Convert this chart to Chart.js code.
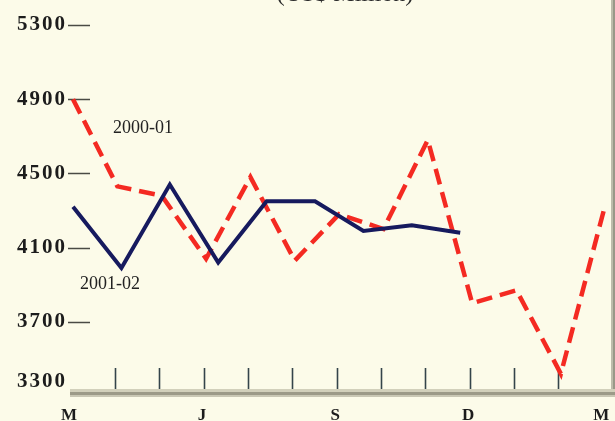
<!DOCTYPE html>
<html>
<head>
<meta charset="utf-8">
<script src="https://cdn.jsdelivr.net/npm/chart.js@4/dist/chart.umd.min.js"></script>
<style>
  html, body { margin: 0; padding: 0; background: #fcfbe9; }
  #wrap { width: 615px; height: 421px; position: relative; }
</style>
</head>
<body>
<div id="wrap"><canvas id="c" width="615" height="421"></canvas></div>
<script>
// Month axis: March through the following March
const months = ['Mar','Apr','May','Jun','Jul','Aug','Sep','Oct','Nov','Dec','Jan','Feb','Mar'];
const monthTickLabels = ['M','','','J','','','S','','','D','','','M'];
const yTickValues = [3300, 3700, 4100, 4500, 4900, 5300];

// Monthly values, US$ million
const sales2000_01 = [4900, 4430, 4380, 4040, 4480, 4030, 4280, 4200, 4680, 3800, 3870, 3420, 4330];
const sales2001_02 = [4320, 3990, 4440, 4020, 4350, 4350, 4190, 4220, 4180];

const seriesNames = ['2000-01', '2001-02'];
const unitTitle = '(US$ Million)';

const SERIF = '"Liberation Serif", "Times New Roman", serif';
const BG = '#fcfbe9';

const decor = {
  id: 'decor',
  beforeDraw(chart) {
    const { ctx, width, height } = chart;
    ctx.save();
    ctx.fillStyle = BG;
    ctx.fillRect(0, 0, width, height);
    ctx.restore();
  },
  beforeDatasetsDraw(chart) {
    const { ctx, chartArea, scales } = chart;
    const xs = scales.x, ys = scales.y;
    const bottom = chartArea.bottom;
    ctx.save();

    // unit caption, running off the top edge
    ctx.fillStyle = '#2b2b2b';
    ctx.font = '24px ' + SERIF;
    ctx.textAlign = 'center';
    ctx.textBaseline = 'alphabetic';
    ctx.fillText(unitTitle, 345, 1);

    // right frame edge
    ctx.fillStyle = '#bdbcab';
    ctx.fillRect(chartArea.right - 1, 0, 2, bottom);
    ctx.fillStyle = '#999888';
    ctx.fillRect(chartArea.right + 1, 0, 2, bottom);

    // base line band
    const bx0 = xs.getPixelForValue(0) - 3;
    ctx.fillStyle = '#d2d0bb';
    ctx.fillRect(bx0, bottom - 7, chart.width - bx0, 3);
    ctx.fillStyle = '#9c9a88';
    ctx.fillRect(bx0, bottom - 4, chart.width - bx0, 3);
    ctx.fillStyle = '#c9c7b4';
    ctx.fillRect(bx0, bottom - 1, chart.width - bx0, 2);

    // month tick marks standing on the base line
    ctx.strokeStyle = '#34444a';
    ctx.lineWidth = 1.6;
    for (let i = 1; i < months.length - 1; i++) {
      const px = Math.round(xs.getPixelForValue(i) - 2.5) + 0.5;
      ctx.beginPath();
      ctx.moveTo(px, bottom - 28);
      ctx.lineTo(px, bottom - 7);
      ctx.stroke();
    }

    // value marks and labels on the left
    ctx.strokeStyle = '#4a4a44';
    ctx.lineWidth = 1.5;
    ctx.fillStyle = '#1c1c1c';
    ctx.font = 'bold 21px ' + SERIF;
    ctx.letterSpacing = '2px';
    ctx.textAlign = 'right';
    ctx.textBaseline = 'middle';
    const yMin = Math.min(...yTickValues);
    yTickValues.forEach(v => {
      const py = ys.getPixelForValue(v);
      if (v !== yMin) {
        ctx.beginPath();
        ctx.moveTo(chartArea.left + 2, Math.round(py) + 0.5);
        ctx.lineTo(chartArea.left + 24, Math.round(py) + 0.5);
        ctx.stroke();
        ctx.fillText(String(v), chartArea.left + 1, py);
      } else {
        ctx.fillText(String(v), chartArea.left + 1, bottom - 14);
      }
    });
    ctx.letterSpacing = '0px';

    // month letters under the base line
    ctx.font = 'bold 17px ' + SERIF;
    ctx.textAlign = 'center';
    ctx.textBaseline = 'alphabetic';
    monthTickLabels.forEach((t, i) => {
      if (!t) return;
      ctx.fillText(t, xs.getPixelForValue(i) - 4, 420);
    });

    // series names beside their lines
    ctx.font = '18px ' + SERIF;
    ctx.fillStyle = '#222';
    ctx.textAlign = 'left';
    ctx.textBaseline = 'middle';
    ctx.fillText(seriesNames[0], xs.getPixelForValue(0.9), ys.getPixelForValue(4745));
    ctx.fillText(seriesNames[1], xs.getPixelForValue(0.16), ys.getPixelForValue(3900));

    ctx.restore();
  }
};

new Chart(document.getElementById('c'), {
  type: 'line',
  data: {
    datasets: [
      {
        label: seriesNames[1],
        data: sales2001_02.map((v, i) => ({ x: i, y: v })),
        xAxisID: 'xb',
        yAxisID: 'y',
        borderColor: '#161a5e',
        borderWidth: 4,
        pointRadius: 0,
        tension: 0,
        fill: false,
        borderJoinStyle: 'miter',
        order: 0
      },
      {
        label: seriesNames[0],
        data: sales2000_01.map((v, i) => ({ x: i, y: v })),
        xAxisID: 'x',
        yAxisID: 'y',
        borderColor: '#f42a22',
        borderWidth: 4.5,
        borderDash: [16, 8],
        pointRadius: 0,
        tension: 0,
        fill: false,
        order: 1
      }
    ]
  },
  options: {
    responsive: false,
    animation: false,
    devicePixelRatio: 1,
    layout: { padding: { left: 66, right: 3, top: 25, bottom: 25 } },
    plugins: { legend: { display: false }, tooltip: { enabled: false } },
    scales: {
      x: { type: 'linear', display: false, min: -0.158, max: 12.153 },
      xb: { type: 'linear', display: false, min: -0.145, max: 11.136 },
      y: { type: 'linear', display: false, min: 3300, max: 5300, ticks: { stepSize: 400 } }
    }
  },
  plugins: [decor]
});
</script>
</body>
</html>
